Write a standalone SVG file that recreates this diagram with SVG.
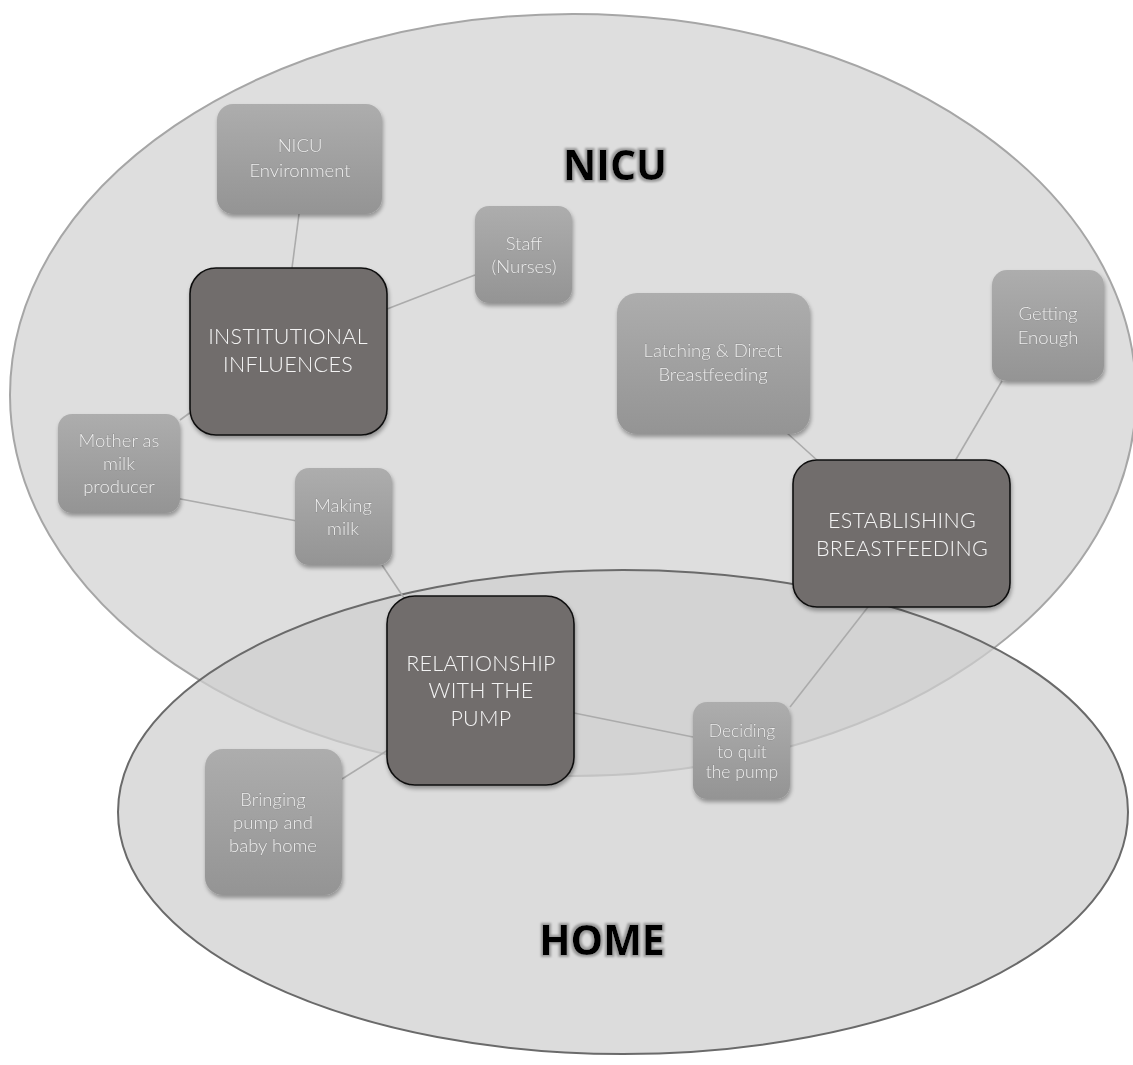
<svg xmlns="http://www.w3.org/2000/svg" width="1133" height="1065" viewBox="0 0 1133 1065">
  <defs>
    <linearGradient id="lightFill" x1="0" y1="0" x2="0" y2="1">
      <stop offset="0" stop-color="#adadad"/>
      <stop offset="1" stop-color="#949494"/>
    </linearGradient>
    <filter id="soft" x="-10%" y="-10%" width="125%" height="130%">
      <feGaussianBlur in="SourceAlpha" stdDeviation="2"/>
      <feOffset dx="1" dy="3" result="b"/>
      <feComponentTransfer><feFuncA type="linear" slope="0.35"/></feComponentTransfer>
      <feMerge><feMergeNode/><feMergeNode in="SourceGraphic"/></feMerge>
    </filter>
    <filter id="titleGlow" x="-10%" y="-20%" width="120%" height="150%">
      <feMorphology in="SourceAlpha" operator="dilate" radius="2" result="d"/>
      <feGaussianBlur in="d" stdDeviation="1" result="g"/>
      <feFlood flood-color="#9a9a9a"/>
      <feComposite in2="g" operator="in"/>
      <feMerge><feMergeNode/><feMergeNode in="SourceGraphic"/></feMerge>
    </filter>
  </defs>
  <style>
    .minor rect { fill: url(#lightFill); }
    .minor text { font-family: Lato, "Open Sans", "Liberation Sans", sans-serif; font-weight: 300; font-size: 18.5px; fill: #efefef; stroke: #8f8f8f; stroke-width: 0.8px; paint-order: stroke; text-anchor: middle; }
    .minor text.sm { font-size: 17.5px; }
    .major rect { fill: #716d6c; stroke: #111; stroke-width: 1.6; }
    .major text { font-family: Lato, "Open Sans", "Liberation Sans", sans-serif; font-weight: 300; font-size: 21.5px; fill: #f4f4f4; text-anchor: middle; letter-spacing: 0.3px; }
    .link { stroke: #ababab; stroke-width: 1.6; fill: none; }
    .title { font-family: "Open Sans", "Liberation Sans", sans-serif; font-weight: bold; font-size: 41px; fill: #000; text-anchor: middle; }
  </style>

  <rect width="1133" height="1065" fill="#ffffff"/>

  <!-- setting areas -->
  <g id="area-nicu">
    <ellipse cx="573" cy="395" rx="563" ry="381" fill="#dedede" stroke="#a6a6a6" stroke-width="2"/>
  </g>
  <g id="area-home">
    <ellipse cx="623" cy="812" rx="505" ry="242" fill="#cfcecf" fill-opacity="0.72" stroke="#6a6a6a" stroke-width="2"/>
  </g>

  <text class="title" x="615" y="180" filter="url(#titleGlow)">NICU</text>
  <text class="title" x="602" y="955" filter="url(#titleGlow)">HOME</text>

  <!-- connectors -->
  <g id="connectors">
    <line class="link" x1="299" y1="214" x2="292" y2="268"/>
    <line class="link" x1="387" y1="309" x2="475" y2="275"/>
    <line class="link" x1="180" y1="420" x2="191" y2="412"/>
    <line class="link" x1="170" y1="497" x2="297" y2="521"/>
    <line class="link" x1="382" y1="565" x2="404" y2="598"/>
    <line class="link" x1="787" y1="433" x2="818" y2="461"/>
    <line class="link" x1="1002" y1="381" x2="955" y2="461"/>
    <line class="link" x1="574" y1="713" x2="693" y2="737"/>
    <line class="link" x1="790" y1="707" x2="868" y2="607"/>
    <line class="link" x1="342" y1="779" x2="388" y2="750"/>
  </g>

  <!-- nodes -->
  <g id="node-nicu-environment" class="minor" filter="url(#soft)">
    <rect x="217" y="104" width="165" height="110" rx="16"/>
    <text x="300" y="152">NICU</text>
    <text x="300" y="177">Environment</text>
  </g>
  <g id="node-staff" class="minor" filter="url(#soft)">
    <rect x="475" y="206" width="97" height="97" rx="14"/>
    <text x="524" y="250">Staff</text>
    <text x="524" y="273">(Nurses)</text>
  </g>
  <g id="node-institutional" class="major" filter="url(#soft)">
    <rect x="190" y="268" width="197" height="167" rx="26"/>
    <text x="288" y="344">INSTITUTIONAL</text>
    <text x="288" y="372">INFLUENCES</text>
  </g>
  <g id="node-latching" class="minor" filter="url(#soft)">
    <rect x="617" y="293" width="193" height="141" rx="20"/>
    <text x="713" y="357">Latching &amp; Direct</text>
    <text x="713" y="381">Breastfeeding</text>
  </g>
  <g id="node-getting-enough" class="minor" filter="url(#soft)">
    <rect x="992" y="270" width="112" height="111" rx="15"/>
    <text x="1048" y="320">Getting</text>
    <text x="1048" y="344">Enough</text>
  </g>
  <g id="node-establishing" class="major" filter="url(#soft)">
    <rect x="793" y="460" width="217" height="147" rx="24"/>
    <text x="902" y="528">ESTABLISHING</text>
    <text x="902" y="556">BREASTFEEDING</text>
  </g>
  <g id="node-mother" class="minor" filter="url(#soft)">
    <rect x="58" y="414" width="122" height="99" rx="14"/>
    <text x="119" y="447">Mother as</text>
    <text x="119" y="470">milk</text>
    <text x="119" y="493">producer</text>
  </g>
  <g id="node-making-milk" class="minor" filter="url(#soft)">
    <rect x="295" y="468" width="97" height="97" rx="14"/>
    <text x="343" y="512">Making</text>
    <text x="343" y="535">milk</text>
  </g>
  <g id="node-relationship" class="major" filter="url(#soft)">
    <rect x="387" y="596" width="187" height="189" rx="28"/>
    <text x="481" y="671">RELATIONSHIP</text>
    <text x="481" y="698">WITH THE</text>
    <text x="481" y="726">PUMP</text>
  </g>
  <g id="node-deciding" class="minor" filter="url(#soft)">
    <rect x="693" y="702" width="97" height="97" rx="14"/>
    <text class="sm" x="742" y="737">Deciding</text>
    <text class="sm" x="742" y="758">to quit</text>
    <text class="sm" x="742" y="778">the pump</text>
  </g>
  <g id="node-bringing" class="minor" filter="url(#soft)">
    <rect x="205" y="749" width="137" height="146" rx="18"/>
    <text x="273" y="806">Bringing</text>
    <text x="273" y="829">pump and</text>
    <text x="273" y="852">baby home</text>
  </g>
</svg>
